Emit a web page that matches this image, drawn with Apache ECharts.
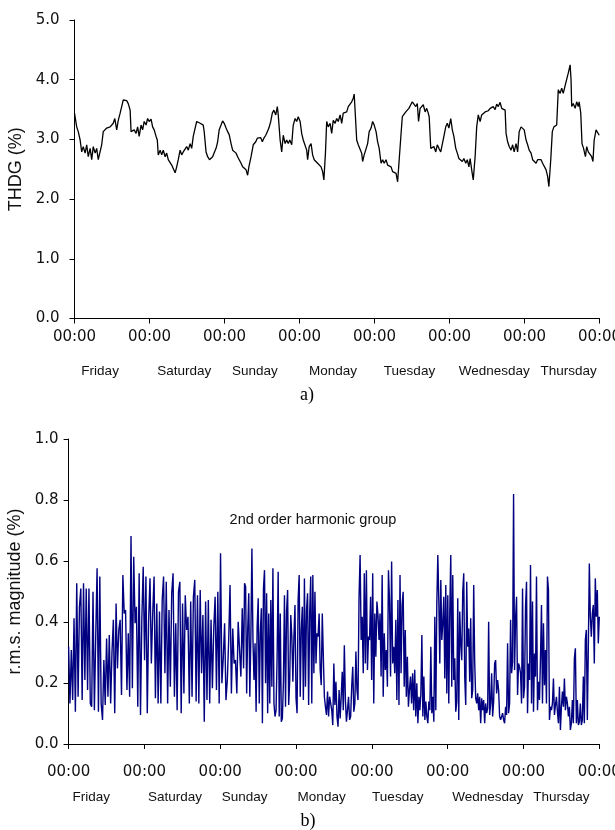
<!DOCTYPE html>
<html>
<head>
<meta charset="utf-8">
<script src="https://cdn.jsdelivr.net/npm/echarts@6/dist/echarts.min.js"></script>
<style>
html,body{margin:0;padding:0;background:#fff;}
#chart{width:615px;height:830px;}
</style>
</head>
<body>
<div id="chart"></div>
<script>
// ---------- DATA ----------
var hourTicks = ['00:00'];
var dayNames = ['Friday','Saturday','Sunday','Monday','Tuesday','Wednesday','Thursday'];
var dayLabelHoursTop = [8.2, 35.1, 57.7, 82.7, 107.2, 134.3, 158.1];
var dayLabelHoursBottom = [7.2, 33.7, 55.7, 80.1, 104.2, 132.7, 156.0];

// THDG (%) : [hour since Friday 00:00, value]
var thdgPoints = [
[0,3.44],[0.7,3.21],[1.2,3.13],[1.8,2.99],[2.3,2.79],[2.8,2.88],[3.4,2.77],[3.9,2.91],[4.4,2.71],[5.0,2.85],
[5.5,2.66],[6.0,2.88],[6.6,2.77],[7.1,2.85],[7.6,2.66],[8.2,2.68],[8.7,2.91],[9.2,3.13],[9.8,3.16],[10.3,3.19],
[10.8,3.16],[11.4,3.21],[11.9,3.19],[12.4,3.27],[12.9,3.35],[13.5,3.16],[14.0,3.32],[14.6,3.44],[15.1,3.55],[15.6,3.66],
[16.2,3.63],[16.7,3.65],[17.2,3.60],[17.8,3.49],[18.1,3.13],[18.6,3.10],[19.1,3.16],[19.7,3.10],[20.2,3.21],[20.7,3.05],
[21.3,3.24],[21.8,3.16],[22.3,3.30],[22.9,3.24],[23.4,3.35],[23.9,3.30],[24.5,3.34],[25.0,3.21],[25.5,3.16],[26.1,3.05],
[26.5,2.99],[26.8,2.74],[27.4,2.82],[27.9,2.74],[28.4,2.82],[29.0,2.71],[29.5,2.77],[30.0,2.66],[30.6,2.68],[31.1,2.57],
[31.6,2.54],[32.2,2.44],[32.7,2.54],[33.2,2.66],[33.8,2.82],[34.3,2.74],[34.8,2.79],[35.4,2.77],[35.9,2.88],[36.4,2.82],
[37.0,2.93],[37.5,2.85],[38.0,3.05],[38.6,3.19],[39.1,3.30],[39.6,3.32],[40.2,3.27],[40.7,3.30],[41.2,3.24],[41.5,3.13],
[42.1,2.79],[42.6,2.71],[43.2,2.66],[43.7,2.68],[44.2,2.71],[44.8,2.79],[45.3,2.85],[45.8,2.96],[46.3,3.16],[46.9,3.24],
[47.4,3.31],[47.9,3.27],[48.5,3.19],[49.0,3.13],[49.5,3.08],[50.1,2.93],[50.6,2.82],[51.1,2.79],[51.7,2.77],[52.2,2.71],
[52.7,2.66],[53.3,2.60],[53.8,2.54],[54.3,2.52],[54.9,2.49],[55.4,2.40],[55.8,2.54],[56.5,2.71],[57.2,2.91],[58.0,2.96],
[58.5,3.02],[59.0,2.99],[59.6,3.03],[60.1,2.96],[60.6,3.02],[61.2,3.07],[61.7,3.13],[62.2,3.19],[62.8,3.30],[63.3,3.44],
[63.8,3.49],[64.4,3.41],[64.9,3.55],[65.2,3.41],[65.8,2.99],[66.3,2.79],[66.8,3.07],[67.4,2.93],[67.9,2.99],[68.4,2.93],
[68.9,2.99],[69.5,2.91],[70.0,3.24],[70.6,3.35],[71.1,3.30],[71.6,3.38],[72.2,3.30],[72.7,3.10],[73.2,2.99],[73.8,2.96],
[74.3,2.82],[74.6,2.66],[75.1,2.88],[75.7,2.93],[76.2,2.74],[76.7,2.66],[77.3,2.68],[77.8,2.60],[78.3,2.63],[78.9,2.54],
[79.4,2.46],[79.8,2.32],[80.3,2.77],[80.7,3.30],[81.2,3.21],[81.8,3.27],[82.3,3.10],[82.8,3.32],[83.4,3.27],[83.9,3.35],
[84.4,3.30],[85.0,3.41],[85.5,3.27],[86.0,3.44],[86.6,3.41],[87.1,3.46],[87.6,3.55],[88.2,3.52],[88.7,3.63],[89.2,3.69],
[89.5,3.76],[89.9,3.38],[90.3,2.99],[90.8,2.91],[91.4,2.93],[91.9,2.77],[92.2,2.63],[92.7,2.74],[93.3,2.77],[93.8,2.93],
[94.3,3.13],[94.9,3.19],[95.4,3.30],[95.9,3.24],[96.5,3.13],[97.0,2.96],[97.5,2.85],[98.1,2.60],[98.6,2.66],[99.1,2.60],
[99.7,2.66],[100.2,2.57],[100.7,2.60],[101.3,2.54],[101.8,2.46],[102.3,2.49],[102.9,2.43],[103.4,2.29],[103.9,2.66],[104.5,3.10],
[104.9,3.38],[105.4,3.35],[106.0,3.46],[106.5,3.44],[107.0,3.52],[107.6,3.49],[108.1,3.63],[108.6,3.66],[109.2,3.55],[109.7,3.60],
[110.1,3.30],[110.6,3.52],[111.1,3.49],[111.6,3.58],[112.2,3.46],[112.7,3.52],[113.2,3.44],[113.5,3.38],[114.0,2.85],[114.5,2.82],
[115.0,2.88],[115.6,2.79],[116.1,2.91],[116.6,2.85],[117.2,2.79],[117.7,2.82],[118.2,3.05],[118.8,3.21],[119.3,3.27],[119.8,3.19],
[120.4,3.35],[120.9,3.16],[121.4,3.05],[122.0,2.85],[122.5,2.77],[123.0,2.68],[123.6,2.71],[124.1,2.63],[124.6,2.68],[125.2,2.60],
[125.7,2.66],[126.2,2.54],[126.6,2.68],[127.1,2.49],[127.6,2.32],[128.2,2.71],[128.7,3.21],[129.2,3.41],[129.8,3.30],[130.3,3.41],
[130.8,3.44],[131.4,3.46],[131.9,3.49],[132.4,3.48],[133.0,3.52],[133.5,3.49],[134.0,3.55],[134.6,3.50],[135.1,3.59],[135.6,3.55],
[136.2,3.62],[136.7,3.52],[137.2,3.55],[137.8,3.49],[138.1,3.10],[138.6,2.96],[139.1,2.88],[139.7,2.82],[140.2,2.91],[140.7,2.79],
[141.3,2.93],[141.8,2.79],[142.3,3.13],[142.9,3.21],[143.4,3.24],[143.9,3.16],[144.5,2.99],[145.0,2.91],[145.5,2.82],[146.1,2.77],
[146.6,2.66],[147.1,2.68],[147.7,2.60],[148.2,2.66],[148.7,2.63],[149.3,2.66],[149.8,2.60],[150.3,2.57],[150.9,2.49],[151.4,2.38],
[151.8,2.21],[152.4,2.66],[152.9,3.13],[153.4,3.21],[154.0,3.19],[154.3,3.24],[154.8,3.83],[155.4,3.77],[155.9,3.86],[156.4,3.77],
[156.9,3.88],[157.5,3.91],[158.0,4.11],[158.6,4.25],[158.9,3.99],[159.1,3.55],[159.6,3.60],[160.2,3.52],[160.7,3.63],[161.2,3.55],
[161.5,3.63],[162.0,3.44],[162.4,2.93],[162.9,2.85],[163.5,2.71],[163.9,2.88],[164.4,2.79],[165.0,2.82],[165.5,2.71],[165.9,2.63],
[166.3,2.99],[166.9,3.16],[167.4,3.19],[167.9,3.07]
];

// 2nd order harmonic group r.m.s. magnitude (%), evenly sampled within each span of hours
var rmsSpan1 = [0, 55.4];
var rmsValues1 = [0.32,0.133,0.308,0.144,0.412,0.106,0.527,0.155,0.45,0.51,
0.144,0.527,0.21,0.51,0.177,0.51,0.133,0.122,0.499,0.111,
0.352,0.576,0.106,0.549,0.133,0.079,0.275,0.128,0.346,0.155,
0.357,0.133,0.303,0.407,0.101,0.461,0.248,0.374,0.407,0.161,
0.554,0.428,0.439,0.177,0.363,0.155,0.682,0.183,0.614,0.396,
0.45,0.122,0.56,0.095,0.412,0.581,0.275,0.549,0.101,0.407,
0.543,0.264,0.428,0.549,0.15,0.461,0.133,0.434,0.133,0.472,
0.549,0.232,0.532,0.133,0.439,0.188,0.494,0.56,0.155,0.396,
0.111,0.499,0.532,0.101,0.461,0.166,0.488,0.374,0.417,0.133,
0.467,0.155,0.483,0.538,0.139,0.488,0.133,0.505,0.232,0.423,
0.073,0.467,0.144,0.472,0.133,0.407,0.183,0.379,0.483,0.177,
0.499,0.133,0.625,0.199,0.281,0.396,0.144,0.21,0.341,0.521,
0.166,0.379,0.264,0.275,0.166,0.401,0.401,0.221,0.445,0.248];
var rmsSpan2 = [55.7, 110.9];
var rmsValues2 = [0.527,0.516,0.166,0.374,0.494,0.155,0.352,0.641,0.341,0.21,
0.33,0.106,0.385,0.478,0.133,0.363,0.445,0.068,0.51,0.57,
0.199,0.494,0.101,0.428,0.133,0.472,0.188,0.576,0.133,0.09,
0.111,0.286,0.565,0.09,0.428,0.073,0.084,0.204,0.488,0.122,
0.434,0.505,0.128,0.21,0.423,0.352,0.204,0.352,0.456,0.15,
0.101,0.472,0.554,0.155,0.374,0.45,0.144,0.543,0.188,0.439,
0.494,0.128,0.428,0.549,0.133,0.554,0.232,0.499,0.264,0.363,
0.352,0.428,0.243,0.193,0.428,0.286,0.155,0.122,0.095,0.172,
0.09,0.155,0.161,0.111,0.062,0.264,0.128,0.204,0.09,0.057,
0.177,0.084,0.155,0.237,0.111,0.324,0.144,0.073,0.111,0.155,
0.079,0.09,0.188,0.253,0.106,0.133,0.303,0.177,0.144,0.483,
0.62,0.341,0.417,0.232,0.56,0.264,0.57,0.243,0.352,0.341,
0.483,0.21,0.56,0.133,0.428,0.286,0.467,0.423,0.341,0.428,
0.221,0.554,0.155,0.363,0.243,0.308,0.188,0.57,0.467,0.221,
0.598,0.264,0.319,0.232,0.407,0.144,0.472,0.128,0.554,0.232,
0.456,0.499,0.188,0.374,0.155,0.286,0.122,0.177,0.221,0.133,
0.232,0.111,0.243,0.09,0.199,0.068,0.155];
var rmsSpan3 = [111.2, 168.0];
var rmsValues3 = [0.111,0.166,0.357,0.09,0.221,0.079,0.139,0.09,0.068,0.139,
0.111,0.319,0.101,0.155,0.073,0.417,0.111,0.461,0.62,0.472,
0.264,0.538,0.341,0.396,0.483,0.215,0.521,0.166,0.488,0.133,
0.434,0.62,0.188,0.554,0.21,0.281,0.106,0.139,0.478,0.079,
0.434,0.33,0.275,0.499,0.56,0.221,0.128,0.532,0.319,0.379,
0.204,0.412,0.15,0.177,0.521,0.27,0.15,0.133,0.166,0.111,
0.155,0.068,0.15,0.111,0.144,0.068,0.133,0.101,0.117,0.401,
0.095,0.133,0.232,0.09,0.139,0.264,0.275,0.166,0.21,0.177,
0.09,0.079,0.073,0.101,0.079,0.068,0.122,0.095,0.33,0.101,
0.133,0.407,0.232,0.27,0.82,0.243,0.412,0.483,0.161,0.264,
0.253,0.232,0.133,0.51,0.15,0.188,0.45,0.532,0.101,0.264,
0.21,0.587,0.133,0.467,0.106,0.297,0.221,0.549,0.111,0.204,
0.144,0.281,0.456,0.133,0.396,0.193,0.308,0.133,0.549,0.505,
0.079,0.122,0.111,0.133,0.215,0.095,0.128,0.155,0.106,0.068,
0.188,0.046,0.122,0.172,0.122,0.215,0.111,0.155,0.133,0.09,
0.122,0.046,0.068,0.144,0.068,0.281,0.314,0.068,0.144,0.062,
0.073,0.133,0.062,0.079,0.221,0.068,0.341,0.374,0.079,0.319,
0.592,0.417,0.352,0.428,0.456,0.264,0.543,0.417,0.505,0.33,0.417];

// ---------- BUILD ----------
function spanSeries(span, vals){
  var out = [];
  var n = vals.length;
  for (var i = 0; i < n; i++) {
    out.push([span[0] + (span[1] - span[0]) * i / (n - 1), vals[i]]);
  }
  return out;
}
var rmsPoints = [].concat(spanSeries(rmsSpan1, rmsValues1), spanSeries(rmsSpan2, rmsValues2), spanSeries(rmsSpan3, rmsValues3));

var NUM_FONT = 'DejaVu Sans';
var TXT_FONT = 'Liberation Sans';

function timeAxis(grid, margin){
  return {
    gridIndex: grid, type: 'value', min: 0, max: 168, interval: 24,
    axisLine: {show: true, onZero: false, lineStyle: {color: '#000', width: 1}},
    axisTick: {show: true, length: 5, lineStyle: {color: '#000', width: 1}},
    axisLabel: {formatter: function(){ return hourTicks[0]; }, margin: margin,
      fontFamily: NUM_FONT, fontSize: 15, color: '#111', showMaxLabel: true, showMinLabel: true},
    splitLine: {show: false}
  };
}
function dayAxis(grid, hours, margin){
  return {
    gridIndex: grid, type: 'value', min: 0, max: 168, position: 'bottom',
    axisLine: {show: false}, axisTick: {show: false}, splitLine: {show: false},
    axisLabel: {customValues: hours, margin: margin,
      formatter: function(v){ var i = hours.indexOf(v); return i >= 0 ? dayNames[i] : ''; },
      fontFamily: TXT_FONT, fontSize: 13.5, color: '#111'}
  };
}
function valAxis(grid, max, interval, name, margin, gap){
  return {
    gridIndex: grid, type: 'value', min: 0, max: max, interval: interval,
    axisLine: {show: true, lineStyle: {color: '#000', width: 1}},
    axisTick: {show: true, length: 5, lineStyle: {color: '#000', width: 1}},
    axisLabel: {formatter: function(v){ return v.toFixed(1); }, margin: margin,
      fontFamily: NUM_FONT, fontSize: 15, color: '#111'},
    splitLine: {show: false},
    name: name, nameLocation: 'middle', nameGap: gap, nameRotate: 90,
    nameTextStyle: {fontFamily: TXT_FONT, fontSize: 18, color: '#111'}
  };
}

var chart = echarts.init(document.getElementById('chart'), null, {renderer: 'canvas'});
chart.setOption({
  animation: false,
  backgroundColor: '#ffffff',
  grid: [
    {left: 74.5, right: 15.5, top: 20, height: 298.5, containLabel: false, outerBoundsMode: 'none'},
    {left: 68.6, right: 15.7, top: 439, height: 305, containLabel: false, outerBoundsMode: 'none'}
  ],
  xAxis: [
    timeAxis(0, 11), dayAxis(0, dayLabelHoursTop, 46),
    timeAxis(1, 21), dayAxis(1, dayLabelHoursBottom, 46)
  ],
  yAxis: [
    valAxis(0, 5, 1, 'THDG (%)', 15, 40),
    valAxis(1, 1, 0.2, 'r.m.s. magnitude (%)', 10, 37)
  ],
  graphic: [
    {type: 'text', x: 307, y: 395, style: {text: 'a)', font: '18px "Liberation Serif"', fill: '#000', textAlign: 'center', textVerticalAlign: 'middle'}},
    {type: 'text', x: 308, y: 821, style: {text: 'b)', font: '18px "Liberation Serif"', fill: '#000', textAlign: 'center', textVerticalAlign: 'middle'}},
    {type: 'text', x: 313, y: 520, style: {text: '2nd order harmonic group', font: '14.5px "Liberation Sans"', fill: '#111', textAlign: 'center', textVerticalAlign: 'middle'}}
  ],
  series: [
    {type: 'line', xAxisIndex: 0, yAxisIndex: 0, data: thdgPoints, showSymbol: false, symbol: 'none',
      lineStyle: {color: '#000', width: 1.3}, silent: true},
    {type: 'line', xAxisIndex: 2, yAxisIndex: 1, data: rmsPoints, showSymbol: false, symbol: 'none',
      lineStyle: {color: '#000080', width: 1.4}, silent: true}
  ]
});
</script>
</body>
</html>
